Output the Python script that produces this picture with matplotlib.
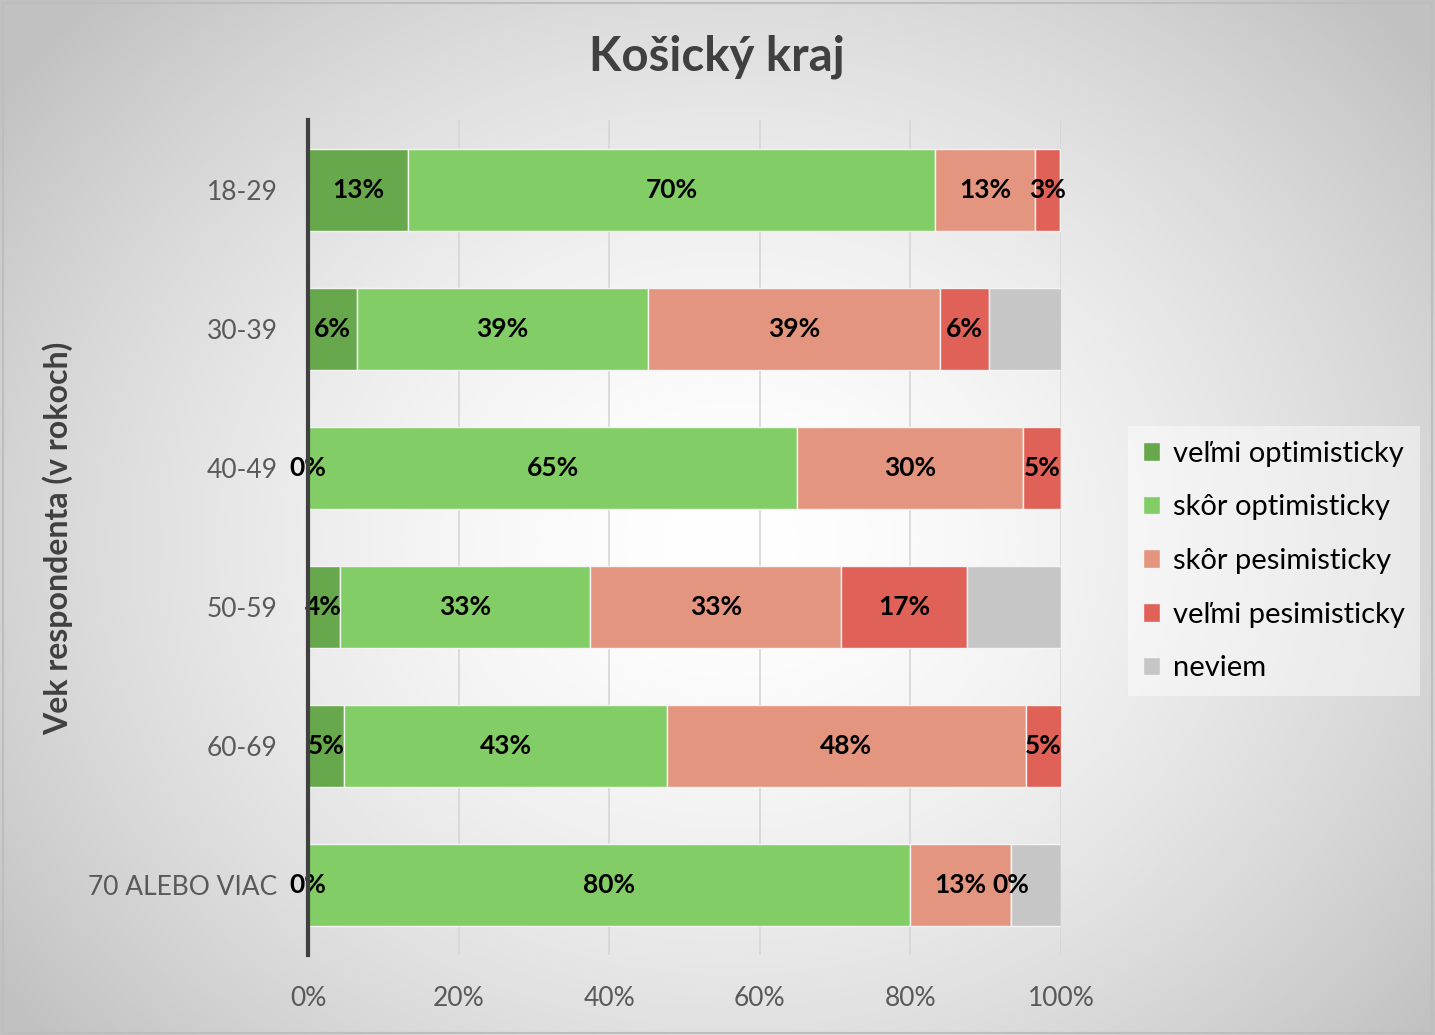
import numpy as np
import matplotlib.pyplot as plt
from matplotlib.patches import Patch

plt.rcParams['font.family'] = ['Lato', 'DejaVu Sans']

categories = ["18-29", "30-39", "40-49", "50-59", "60-69", "70 ALEBO VIAC"]
series_names = ["veľmi optimisticky", "skôr optimisticky", "skôr pesimisticky",
                "veľmi pesimisticky", "neviem"]
velmi_opt = [13.3, 6.5, 0.0, 4.2, 4.8, 0.0]
skor_opt = [70.0, 38.7, 65.0, 33.3, 42.9, 80.0]
skor_pes = [13.3, 38.7, 30.0, 33.3, 47.6, 13.3]
velmi_pes = [3.3, 6.5, 5.0, 16.7, 4.8, 0.0]
neviem = [0.0, 9.7, 0.0, 12.5, 0.0, 6.7]
xticks = [0, 20, 40, 60, 80, 100]

colors = ["#68a84d", "#82cd66", "#e3957f", "#e06157", "#c6c6c6"]
labelled = [True, True, True, True, False]

fig = plt.figure(figsize=(14.35, 10.35), dpi=100)

# radial background
bg = fig.add_axes([0, 0, 1, 1], zorder=-10)
yy, xx = np.mgrid[0:1035, 0:1435]
r = np.sqrt(((xx - 730) / 900.0) ** 2 + ((yy - 540) / 760.0) ** 2)
shade = 1.0 - 0.24 * np.clip(r, 0, 1) ** 1.6
bg.imshow(np.dstack([shade] * 3), aspect='auto', extent=[0, 1, 0, 1])
bg.plot([0.002, 0.998, 0.998, 0.002, 0.002], [0.002, 0.002, 0.997, 0.997, 0.002],
        color="#bdbdbd", lw=1.5)
bg.set_xlim(0, 1)
bg.set_ylim(0, 1)
bg.axis('off')

ax = fig.add_axes([308 / 1435, 1 - 955 / 1035, 753 / 1435, 835 / 1035])
ax.patch.set_alpha(0)

data = [velmi_opt, skor_opt, skor_pes, velmi_pes, neviem]
y = np.arange(len(categories))
left = np.zeros(len(categories))
for vals, name, col, lab in zip(data, series_names, colors, labelled):
    vals = np.array(vals)
    ax.barh(y, vals, left=left, height=0.59, color=col, edgecolor="#f4f4f4",
            linewidth=1, label=name, zorder=2)
    if lab:
        for yi, l, v in zip(y, left, vals):
            ax.text(l + v / 2, yi, f"{round(v)}%", ha='center', va='center',
                    fontsize=19, fontweight='bold', color='black', zorder=4)
    left += vals

ax.set_xlim(0, 100)
ax.set_ylim(len(categories) - 0.5, -0.5)
ax.set_yticks(y)
ax.set_yticklabels(categories)
ax.set_xticks(xticks)
ax.set_xticklabels([f"{t}%" for t in xticks])
ax.tick_params(axis='both', length=0, labelsize=19, labelcolor="#595959")
ax.tick_params(axis='y', pad=22)
ax.tick_params(axis='x', pad=22)
ax.xaxis.grid(True, color="#d6d6d6", lw=1.2, zorder=0)
ax.set_axisbelow(True)
for s in ['top', 'right', 'bottom']:
    ax.spines[s].set_visible(False)
ax.spines['left'].set_color("#404040")
ax.spines['left'].set_linewidth(3)
ax.spines['left'].set_zorder(5)

fig.text(58 / 1435, 1 - 538 / 1035, "Vek respondenta (v rokoch)", rotation=90,
         ha='center', va='center', fontsize=23, fontweight='bold', color="#404040")
fig.text(717 / 1435, 1 - 57 / 1035, "Košický kraj", ha='center', va='center',
         fontsize=34, fontweight='bold', color="#404040")

handles = [Patch(facecolor=c, edgecolor="#f4f4f4") for c in colors]
leg = fig.legend(handles, series_names, loc='center left',
                 bbox_to_anchor=(1128 / 1435, 1 - 561 / 1035), fontsize=21,
                 frameon=True, handlelength=0.6, handleheight=0.6,
                 handletextpad=0.45, labelspacing=0.95, borderpad=0.5,
                 borderaxespad=0)
leg.get_frame().set_facecolor("white")
leg.get_frame().set_alpha(0.45)
leg.get_frame().set_edgecolor("none")
leg.get_frame().set_boxstyle("square", pad=0)

fig.savefig("out.png", dpi=100)
